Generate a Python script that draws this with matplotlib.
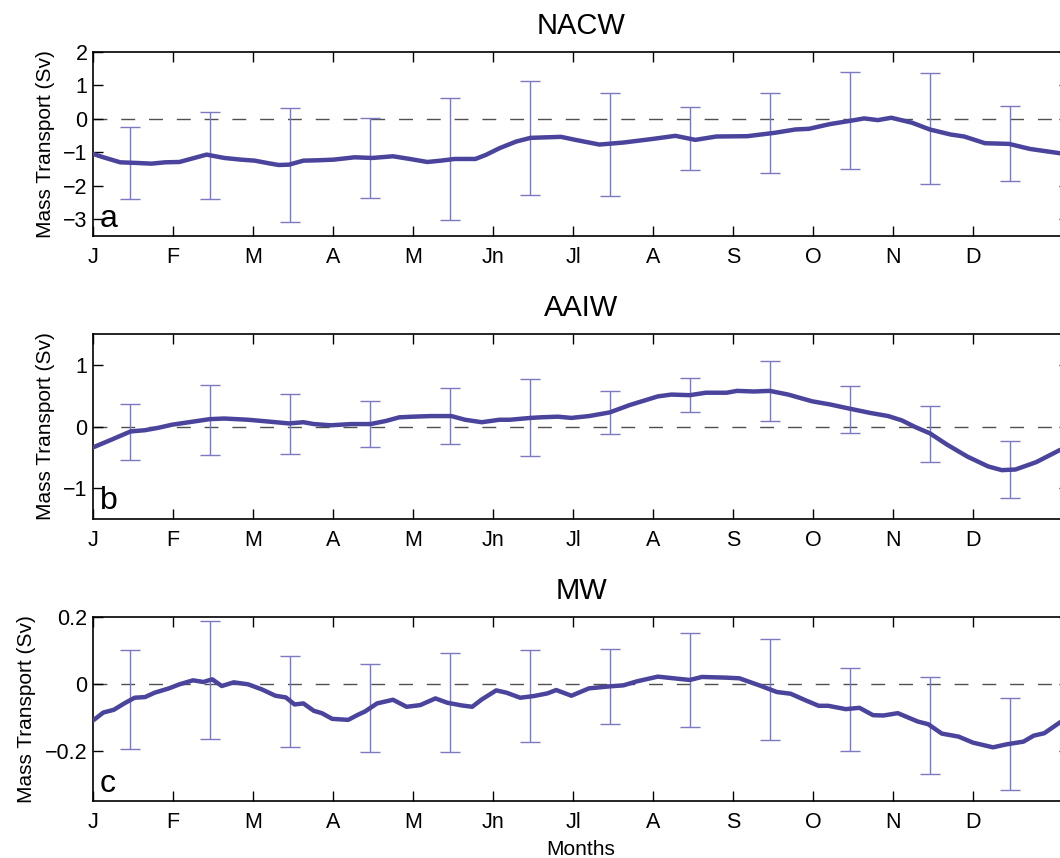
import matplotlib
matplotlib.use("Agg")
import matplotlib.pyplot as plt
import numpy as np

plt.rcParams["font.family"] = ["Liberation Sans", "DejaVu Sans"]

month_labels = ["J", "F", "M", "A", "M", "Jn", "Jl", "A", "S", "O", "N", "D"]

# error bar positions (mid-month)
bar_months = [0.46 + k for k in range(12)]

# --- NACW ---
nacw_t = [0.00, 0.13, 0.34, 0.56, 0.73, 0.90, 1.08, 1.25, 1.42, 1.64, 1.85, 2.02,
          2.20, 2.32, 2.45, 2.63, 2.80, 3.01, 3.27, 3.49, 3.75, 3.96, 4.18, 4.35,
          4.52, 4.78, 4.91, 5.08, 5.29, 5.47, 5.85, 6.03, 6.33, 6.63, 6.97, 7.28,
          7.53, 7.79, 8.18, 8.52, 8.78, 8.95, 9.21, 9.47, 9.64, 9.81, 9.98, 10.24,
          10.46, 10.72, 10.89, 11.15, 11.45, 11.71, 12.09]
nacw_v = [-1.05, -1.15, -1.30, -1.32, -1.34, -1.30, -1.29, -1.18, -1.07, -1.17, -1.22, -1.25,
          -1.33, -1.38, -1.37, -1.25, -1.24, -1.22, -1.15, -1.17, -1.12, -1.20, -1.29, -1.25,
          -1.20, -1.20, -1.08, -0.88, -0.68, -0.57, -0.54, -0.63, -0.77, -0.71, -0.61, -0.51,
          -0.63, -0.53, -0.52, -0.42, -0.32, -0.30, -0.16, -0.06, 0.01, -0.04, 0.03, -0.12,
          -0.32, -0.47, -0.53, -0.73, -0.75, -0.90, -1.03]
nacw_bar_mean = [-1.31, -1.10, -1.38, -1.17, -1.21, -0.58, -0.76, -0.59, -0.43, -0.04, -0.30, -0.75]
nacw_bar_err = [1.07, 1.30, 1.70, 1.20, 1.82, 1.71, 1.54, 0.95, 1.20, 1.45, 1.66, 1.12]

# --- AAIW ---
aaiw_t = [0.00, 0.22, 0.47, 0.65, 0.82, 0.99, 1.20, 1.46, 1.64, 1.94, 2.20, 2.45,
          2.63, 2.76, 2.97, 3.23, 3.47, 3.66, 3.83, 4.00, 4.22, 4.48, 4.65, 4.86,
          5.08, 5.21, 5.47, 5.60, 5.81, 5.98, 6.20, 6.46, 6.71, 7.06, 7.23, 7.46,
          7.66, 7.92, 8.05, 8.26, 8.46, 8.69, 8.99, 9.21, 9.46, 9.72, 9.94, 10.11,
          10.28, 10.46, 10.67, 10.93, 11.19, 11.36, 11.53, 11.79, 12.09]
aaiw_v = [-0.34, -0.22, -0.08, -0.06, -0.02, 0.03, 0.07, 0.12, 0.13, 0.11, 0.08, 0.05,
          0.07, 0.04, 0.02, 0.04, 0.04, 0.09, 0.15, 0.16, 0.17, 0.17, 0.11, 0.07,
          0.11, 0.11, 0.14, 0.15, 0.16, 0.14, 0.17, 0.23, 0.35, 0.49, 0.52, 0.51,
          0.55, 0.55, 0.58, 0.57, 0.58, 0.52, 0.41, 0.36, 0.29, 0.22, 0.17, 0.10,
          -0.01, -0.11, -0.29, -0.49, -0.65, -0.71, -0.70, -0.58, -0.38]
aaiw_bar_mean = [-0.09, 0.105, 0.045, 0.04, 0.175, 0.145, 0.225, 0.51, 0.573, 0.28, -0.117, -0.70]
aaiw_bar_err = [0.45, 0.565, 0.485, 0.38, 0.46, 0.63, 0.345, 0.28, 0.487, 0.38, 0.454, 0.47]

# --- MW ---
mw_t = [0.00, 0.13, 0.26, 0.39, 0.52, 0.65, 0.77, 0.95, 1.08, 1.25, 1.38, 1.49,
        1.61, 1.76, 1.94, 2.11, 2.28, 2.41, 2.52, 2.63, 2.76, 2.86, 2.99, 3.19,
        3.31, 3.40, 3.55, 3.75, 3.92, 4.09, 4.28, 4.43, 4.61, 4.74, 4.86, 5.04,
        5.17, 5.34, 5.51, 5.68, 5.79, 5.98, 6.20, 6.46, 6.63, 6.80, 7.06, 7.46,
        7.61, 7.91, 8.08, 8.34, 8.55, 8.72, 8.90, 9.07, 9.19, 9.41, 9.58, 9.75,
        9.88, 10.06, 10.31, 10.44, 10.61, 10.82, 11.00, 11.25, 11.42, 11.63, 11.76,
        11.89, 12.09]
mw_v = [-0.109, -0.085, -0.077, -0.058, -0.041, -0.039, -0.026, -0.013, -0.001, 0.011, 0.006, 0.014,
        -0.006, 0.005, -0.001, -0.016, -0.035, -0.040, -0.061, -0.058, -0.080, -0.087, -0.104, -0.107,
        -0.092, -0.082, -0.058, -0.047, -0.068, -0.063, -0.043, -0.056, -0.064, -0.068, -0.046, -0.019,
        -0.026, -0.041, -0.036, -0.028, -0.018, -0.035, -0.013, -0.007, -0.004, 0.008, 0.022, 0.012,
        0.021, 0.019, 0.017, -0.005, -0.024, -0.029, -0.048, -0.065, -0.065, -0.075, -0.071, -0.093,
        -0.094, -0.087, -0.112, -0.120, -0.148, -0.157, -0.175, -0.189, -0.180, -0.172, -0.154,
        -0.147, -0.114]
mw_bar_mean = [-0.047, 0.012, -0.052, -0.071, -0.055, -0.036, -0.008, 0.012, -0.016, -0.076, -0.123, -0.18]
mw_bar_err = [0.147, 0.177, 0.137, 0.132, 0.147, 0.137, 0.111, 0.14, 0.151, 0.125, 0.145, 0.137]

line_color = "#4a449c"
bar_color = "#7c78c2"

panels = [
    ("NACW", "a", nacw_t, nacw_v, nacw_bar_mean, nacw_bar_err, (-3.5, 2), [-3, -2, -1, 0, 1, 2], ["\u22123", "\u22122", "\u22121", "0", "1", "2"]),
    ("AAIW", "b", aaiw_t, aaiw_v, aaiw_bar_mean, aaiw_bar_err, (-1.5, 1.5), [-1, 0, 1], ["\u22121", "0", "1"]),
    ("MW", "c", mw_t, mw_v, mw_bar_mean, mw_bar_err, (-0.35, 0.2), [-0.2, 0, 0.2], ["\u22120.2", "0", "0.2"]),
]

# axes boxes in figure fractions
boxes = [0.7249, 0.3955, 0.0661]
left = 93 / 1060
width = 976 / 1060
height = 0.2148

fig = plt.figure(figsize=(10.6, 8.58), dpi=100)

for (title, letter, t, v, bm, be, ylim, yt, ytl), bottom in zip(panels, boxes):
    ax = fig.add_axes([left, bottom, width, height])
    ax.axhline(0, color="#505050", lw=1.0, linestyle=(0, (10, 10)), zorder=1)
    ax.errorbar(bar_months, bm, yerr=be, fmt="none", ecolor=bar_color,
                elinewidth=1.0, capsize=7, capthick=1.0, zorder=2)
    ax.plot(t, v, color=line_color, lw=3.2, zorder=3, solid_capstyle="round",
            solid_joinstyle="round")
    ax.set_xlim(0, 12.2)
    ax.set_ylim(*ylim)
    ax.set_xticks(range(12))
    ax.set_xticklabels(month_labels)
    ax.set_yticks(yt)
    ax.set_yticklabels(ytl)
    ax.tick_params(axis="both", direction="in", length=7, width=1.0,
                   labelsize=15.5, top=True, right=True)
    ax.tick_params(axis="x", pad=8)
    ax.tick_params(axis="y", pad=4)
    for sp in ax.spines.values():
        sp.set_linewidth(1.2)
    ax.set_title(title, fontsize=21, pad=13)
    ax.set_ylabel("Mass Transport (Sv)", fontsize=15, labelpad=6)
    ax.text(0.007, 0.05, letter, transform=ax.transAxes, fontsize=23,
            ha="left", va="baseline")

ax.set_xlabel("Months", fontsize=15, labelpad=5)

fig.savefig("out.png", dpi=100)
